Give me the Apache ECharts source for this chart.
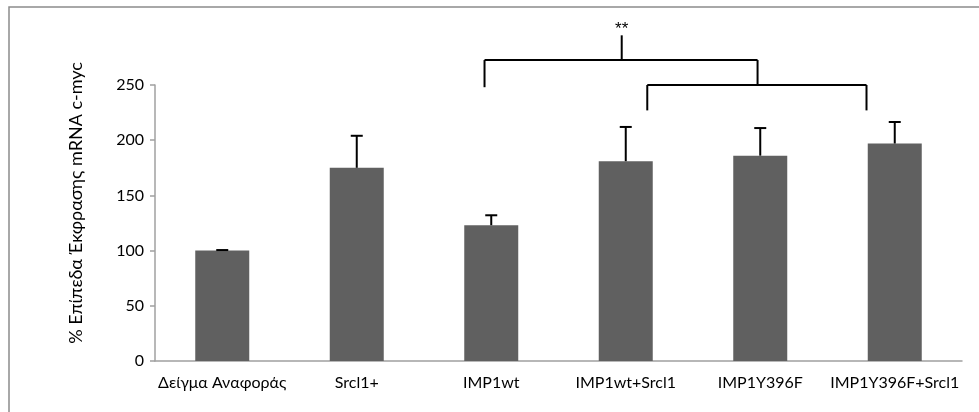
<!DOCTYPE html>
<html>
<head>
<meta charset="utf-8">
<script src="https://cdn.jsdelivr.net/npm/echarts@6/dist/echarts.min.js"></script>
<style>
  html, body { margin: 0; padding: 0; background: #fff; }
  #chart { width: 979px; height: 412px; }
</style>
</head>
<body>
<div id="chart"></div>
<script>
// categories and values
var categories = ['Δείγμα Αναφοράς', 'Srcl1+', 'IMP1wt', 'IMP1wt+Srcl1', 'IMP1Y396F', 'IMP1Y396F+Srcl1'];
var means = [100, 175, 123, 181, 186, 197];
var errTops = [100.5, 204, 132, 212, 211, 216.5];
var yTicks = [0, 50, 100, 150, 200, 250];

// significance brackets, x in category units (0..6), y in axis units
var bracketSegments = [
  [2.45, 248, 2.45, 272.6],
  [2.45, 272.6, 4.48, 272.6],
  [3.47, 272.6, 3.47, 295],
  [4.48, 272.6, 4.48, 250],
  [3.66, 227, 3.66, 250],
  [3.66, 250, 5.29, 250],
  [5.29, 250, 5.29, 227]
];
var starLabel = [3.47, 300, '**'];

var font = 'Lato, "Noto Sans", sans-serif';
var chart = echarts.init(document.getElementById('chart'));

var option = {
  animation: false,
  grid: { left: 155, right: 17, top: 85, bottom: 51 },
  xAxis: [
    {
      type: 'category',
      data: categories,
      axisLine: { lineStyle: { color: '#a0a0a0', width: 1.5 } },
      axisTick: { length: 5, lineStyle: { color: '#a0a0a0', width: 1.5 } },
      axisLabel: { color: '#000', fontFamily: font, fontSize: 16, margin: 14, interval: 0 }
    },
    { type: 'value', min: 0, max: 6, show: false }
  ],
  yAxis: {
    type: 'value',
    min: yTicks[0],
    max: yTicks[yTicks.length - 1],
    interval: 50,
    splitLine: { show: false },
    axisLine: { show: true, lineStyle: { color: '#a0a0a0', width: 1.5 } },
    axisTick: { show: true, length: 5, lineStyle: { color: '#a0a0a0', width: 1.5 } },
    axisLabel: { color: '#000', fontFamily: font, fontSize: 16, margin: 11 }
  },
  graphic: [
    {
      type: 'rect',
      shape: { x: 9, y: 7, width: 1000, height: 450 },
      style: { fill: 'none', stroke: '#8c8c8c', lineWidth: 1.5 },
      silent: true
    },
    {
      type: 'text',
      x: 76, y: 203,
      rotation: Math.PI / 2,
      style: {
        text: '% Επίπεδα Έκφρασης mRNA c-myc',
        fontFamily: font, fontSize: 18, fill: '#000',
        align: 'center', verticalAlign: 'middle'
      }
    }
  ],
  series: [
    {
      type: 'bar',
      data: means,
      barWidth: 54,
      itemStyle: { color: '#606060' },
      z: 2
    },
    {
      type: 'custom',
      data: categories.map(function (c, i) { return [i, means[i], errTops[i]]; }),
      renderItem: function (params, api) {
        var base = api.coord([api.value(0), api.value(1)]);
        var top = api.coord([api.value(0), api.value(2)]);
        var st = { stroke: '#000', lineWidth: 2 };
        return {
          type: 'group',
          children: [
            { type: 'line', shape: { x1: base[0], y1: base[1], x2: top[0], y2: top[1] }, style: st },
            { type: 'line', shape: { x1: top[0] - 6, y1: top[1], x2: top[0] + 6, y2: top[1] }, style: st }
          ]
        };
      },
      z: 3
    },
    {
      type: 'custom',
      xAxisIndex: 1,
      clip: false,
      data: bracketSegments,
      renderItem: function (params, api) {
        var a = api.coord([api.value(0), api.value(1)]);
        var b = api.coord([api.value(2), api.value(3)]);
        return {
          type: 'line',
          shape: { x1: a[0], y1: a[1], x2: b[0], y2: b[1] },
          style: { stroke: '#000', lineWidth: 2 }
        };
      },
      z: 4
    },
    {
      type: 'custom',
      xAxisIndex: 1,
      clip: false,
      data: [starLabel],
      renderItem: function (params, api) {
        var p = api.coord([api.value(0), api.value(1)]);
        return {
          type: 'text',
          x: p[0], y: p[1],
          style: {
            text: String(starLabel[2]),
            fontFamily: '"Liberation Sans", sans-serif', fontSize: 17, fill: '#000',
            align: 'center', verticalAlign: 'middle'
          }
        };
      },
      z: 4
    }
  ]
};

chart.setOption(option);
</script>
</body>
</html>
